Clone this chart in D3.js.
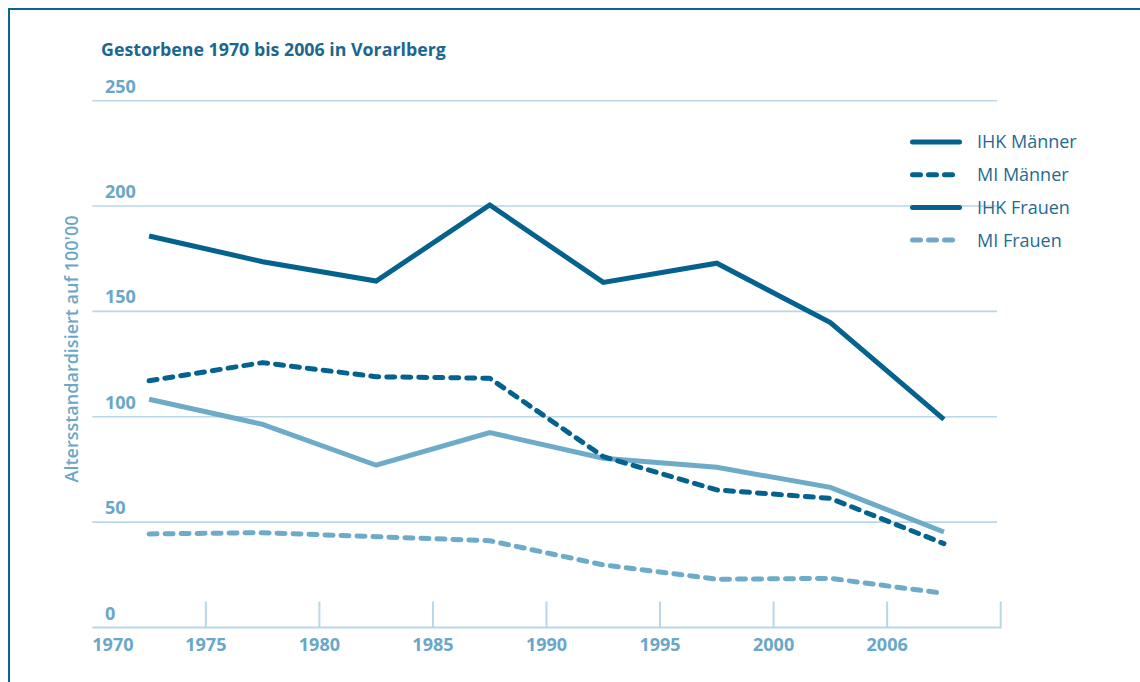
<!DOCTYPE html>
<html>
<head>
<meta charset="utf-8">
<script src="https://cdn.jsdelivr.net/npm/d3@7"></script>
<style>
  html, body { margin: 0; padding: 0; background: #ffffff; }
  svg { display: block; font-family: "Open Sans", "Lato", sans-serif; }
</style>
</head>
<body>
<script>
var WIDTH = 1140;
var HEIGHT = 682;

var DARK = "#03628e";
var LIGHT = "#6eabc9";
var GRID = "#b9d7e7";
var LABEL = "#6aa7c7";

// periods are plotted at the middle of each 5 year block
var periods = [1972.5, 1977.5, 1982.5, 1987.5, 1992.5, 1997.5, 2002.5, 2007.5];

var ihkMaenner = [185.8, 173.6, 164.4, 200.5, 163.8, 172.9, 144.7, 98.8];
var miMaenner  = [117.1, 125.7, 119.0, 118.3, 81.1, 65.3, 61.3, 39.8];
var ihkFrauen  = [108.3, 96.4, 77.0, 92.5, 80.3, 76.0, 66.5, 45.3];
var miFrauen   = [44.4, 45.0, 43.1, 41.2, 29.7, 22.9, 23.3, 16.2];

var xTicks      = [1970, 1975, 1980, 1985, 1990, 1995, 2000, 2005, 2010];
var xTickLabels = ["1970", "1975", "1980", "1985", "1990", "1995", "2000", "2006", ""];
var yTicks      = [0, 50, 100, 150, 200, 250];

var legendNames  = ["IHK Männer", "MI Männer", "IHK Frauen", "MI Frauen"];
var legendColors = [DARK, DARK, DARK, LIGHT];
var legendDashed = [false, true, false, true];

var series = [
  { values: ihkMaenner, color: DARK,  dashed: false },
  { values: miMaenner,  color: DARK,  dashed: true },
  { values: ihkFrauen,  color: LIGHT, dashed: false },
  { values: miFrauen,   color: LIGHT, dashed: true }
];

var svg = d3.select("body").append("svg")
            .attr("width", WIDTH)
            .attr("height", HEIGHT);

var x = d3.scaleLinear().domain([1970, 2010]).range([92.3, 1000.7]);
var y = d3.scaleLinear().domain([0, 250]).range([627.5, 100.7]);

// frame
svg.append("path")
   .attr("d", "M9," + HEIGHT + "V9H" + WIDTH)
   .style("fill", "none")
   .style("stroke", "#0b6590")
   .style("stroke-width", 2);

// title
svg.append("text")
   .attr("x", 101)
   .attr("y", 56)
   .style("font-size", "17.8px")
   .style("font-weight", "bold")
   .style("fill", "#1b6790")
   .text("Gestorbene 1970 bis 2006 in Vorarlberg");

// grid lines
svg.selectAll(".grid_line")
   .data(yTicks.filter(function(d) { return d > 0; }))
   .enter().append("line")
   .attr("class", "grid_line")
   .attr("x1", x(1970))
   .attr("x2", 997)
   .attr("y1", function(d) { return y(d); })
   .attr("y2", function(d) { return y(d); })
   .style("stroke", GRID)
   .style("stroke-width", 1.6);

// base line
svg.append("line")
   .attr("x1", x(1970))
   .attr("x2", x(2010) + 1)
   .attr("y1", y(0))
   .attr("y2", y(0))
   .style("stroke", GRID)
   .style("stroke-width", 2);

// y labels
svg.selectAll(".y_label")
   .data(yTicks)
   .enter().append("text")
   .attr("class", "y_label")
   .attr("x", 105)
   .attr("y", function(d) { return y(d) - 8; })
   .style("font-size", "18px")
   .style("font-weight", "bold")
   .style("fill", LABEL)
   .text(function(d) { return d; });

// x ticks
svg.selectAll(".x_tick")
   .data(xTicks.slice(1))
   .enter().append("line")
   .attr("class", "x_tick")
   .attr("x1", function(d) { return x(d); })
   .attr("x2", function(d) { return x(d); })
   .attr("y1", y(0) - 26)
   .attr("y2", y(0))
   .style("stroke", GRID)
   .style("stroke-width", 2);

// x labels
svg.selectAll(".x_label")
   .data(xTicks)
   .enter().append("text")
   .attr("class", "x_label")
   .attr("x", function(d) { return x(d); })
   .attr("y", 651)
   .attr("text-anchor", function(d, i) { return i == 0 ? "start" : "middle"; })
   .style("font-size", "18px")
   .style("font-weight", "bold")
   .style("fill", LABEL)
   .text(function(d, i) { return xTickLabels[i]; });

// y axis title
svg.append("text")
   .attr("transform", "translate(78,349) rotate(-90)")
   .attr("text-anchor", "middle")
   .style("font-size", "18px")
   .style("font-weight", "600")
   .style("fill", LABEL)
   .text("Altersstandardisiert auf 100'00");

// lines
var line = d3.line()
             .x(function(d, i) { return x(periods[i]); })
             .y(function(d) { return y(d); });

svg.selectAll(".data_line")
   .data(series.slice().reverse())
   .enter().append("path")
   .attr("class", "data_line")
   .attr("d", function(d) { return line(d.values); })
   .style("fill", "none")
   .style("stroke", function(d) { return d.color; })
   .style("stroke-width", 5)
   .style("stroke-linejoin", function(d) { return d.dashed ? "round" : "miter"; })
   .style("stroke-linecap", function(d) { return d.dashed ? "round" : "butt"; })
   .style("stroke-dasharray", function(d) { return d.dashed ? "8,8" : null; });

// legend
var legend = svg.selectAll(".legend_item")
                .data(legendNames)
                .enter().append("g")
                .attr("class", "legend_item")
                .attr("transform", function(d, i) { return "translate(0," + (142 + i * 32.7) + ")"; });

legend.append("line")
      .attr("x1", 912.5)
      .attr("x2", function(d, i) { return legendDashed[i] ? 953 : 959.5; })
      .style("stroke", function(d, i) { return legendColors[i]; })
      .style("stroke-width", 5)
      .style("stroke-linecap", "round")
      .style("stroke-dasharray", function(d, i) { return legendDashed[i] ? "8,8" : null; });

legend.append("text")
      .attr("x", 977)
      .attr("dy", "0.36em")
      .style("font-size", "18px")
      .style("fill", "#1f6b92")
      .text(function(d) { return d; });
</script>
</body>
</html>
